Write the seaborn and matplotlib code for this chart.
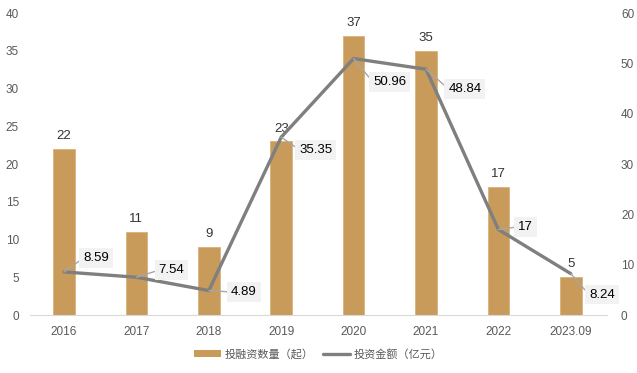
import numpy as np
import pandas as pd
import matplotlib
matplotlib.use("Agg")
import matplotlib.pyplot as plt
import seaborn as sns
from matplotlib.patches import Patch
from matplotlib.lines import Line2D

sns.set_style("white")
plt.rcParams["font.family"] = ["Liberation Sans", "Noto Sans CJK SC"]

# data
years = ["2016", "2017", "2018", "2019", "2020", "2021", "2022", "2023.09"]
deal_counts = [22, 11, 9, 23, 37, 35, 17, 5]
invest_amount = [8.59, 7.54, 4.89, 35.35, 50.96, 48.84, 17, 8.24]
amount_labels = ["8.59", "7.54", "4.89", "35.35", "50.96", "48.84", "17", "8.24"]
# label offsets (points) for the line labels
label_offsets = [(14, 10), (16, 5), (16, -1), (13, -9), (14, -17), (16, -14), (14, 2), (13, -15)]

bar_color = "#C89B5A"
line_color = "#7F7F7F"
tick_color = "#595959"

df = pd.DataFrame({"year": years, "count": deal_counts, "amount": invest_amount})

fig = plt.figure(figsize=(6.37, 3.73), dpi=100)
ax1 = fig.add_axes([0.047, 0.155, 0.906, 0.81])

sns.barplot(data=df, x="year", y="count", color=bar_color, saturation=1,
            width=0.3, ax=ax1)
for p in ax1.patches:
    p.set_edgecolor("#D9B27A")
    p.set_linewidth(0.6)
ax1.bar_label(ax1.containers[0], labels=[str(v) for v in deal_counts],
              padding=5, fontsize=9.5, color="#333333")
ax1.set_ylim(0, 40)
ax1.set_yticks(range(0, 41, 5))
ax1.set_xlim(-0.47, 7.5)
ax1.set_xlabel("")
ax1.set_ylabel("")

ax2 = ax1.twinx()
xpos = np.arange(len(years))
sns.lineplot(x=xpos, y=df["amount"], color=line_color, linewidth=2.4, ax=ax2)
ax2.set_ylim(0, 60)
ax2.set_yticks(range(0, 61, 10))
ax2.set_ylabel("")

for x, y, lab, off in zip(xpos, invest_amount, amount_labels, label_offsets):
    ax2.annotate(lab, xy=(x, y), xytext=off, textcoords="offset points",
                 fontsize=9.5, color="black", ha="left", va="center",
                 bbox=dict(boxstyle="square,pad=0.3", fc="#F2F2F2", ec="none"),
                 arrowprops=dict(arrowstyle="-", color="#A6A6A6", lw=1.0,
                                 shrinkA=0, shrinkB=0, relpos=(0, 0.5)))

for ax in (ax1, ax2):
    for s in ax.spines.values():
        s.set_visible(False)
    ax.tick_params(axis="both", length=0, labelsize=8.5, colors=tick_color)
ax1.spines["bottom"].set_visible(True)
ax1.spines["bottom"].set_color("#D9D9D9")
ax1.tick_params(axis="x", pad=8)
ax2.tick_params(axis="y", pad=10)
ax1.tick_params(axis="y", pad=8)

handles = [Patch(facecolor=bar_color, edgecolor="none"),
           Line2D([0], [0], color=line_color, lw=2.4)]
fig.legend(handles, ["投融资数量（起）", "投资金额（亿元）"],
           loc="center", bbox_to_anchor=(0.5, 0.05), ncol=2, frameon=False,
           handlelength=2.4, handleheight=0.6, handletextpad=0.4, columnspacing=0.8,
           labelcolor=tick_color, prop={"family": ["Noto Sans CJK SC"], "size": 8})

fig.savefig("out.png", dpi=100)
